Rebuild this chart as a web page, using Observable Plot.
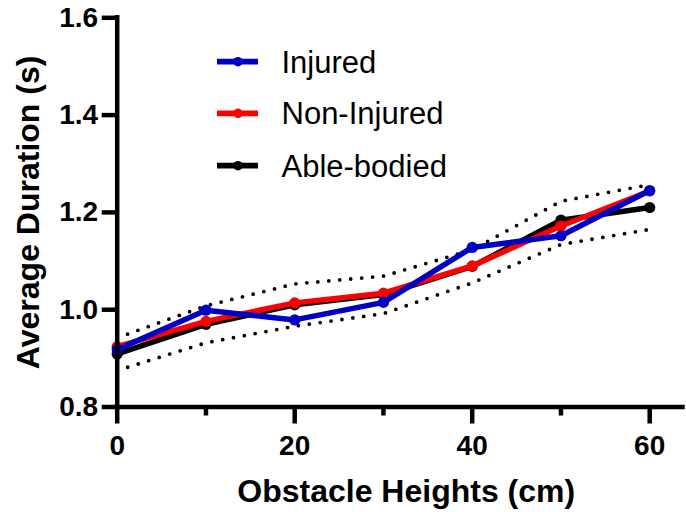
<!DOCTYPE html>
<html>
<head>
<meta charset="utf-8">
<script src="https://cdn.jsdelivr.net/npm/d3@7"></script>
<script src="https://cdn.jsdelivr.net/npm/@observablehq/plot@0.6"></script>
<style>
  html, body { margin: 0; padding: 0; background: #fff; }
  #chart svg { display: block; }
</style>
</head>
<body>
<div id="chart"></div>
<script>
// Obstacle heights (cm)
const heights = [0, 10, 20, 30, 40, 50, 60];

// Average step duration (s) per group
const injured    = [0.918, 0.999, 0.979, 1.015, 1.128, 1.152, 1.245];
const nonInjured = [0.924, 0.976, 1.014, 1.034, 1.090, 1.172, 1.244];
const ableBodied = [0.909, 0.970, 1.010, 1.031, 1.089, 1.184, 1.210];

// Able-bodied spread (dotted band)
const ableUpper = [0.942, 1.008, 1.053, 1.069, 1.123, 1.223, 1.257];
const ableLower = [0.875, 0.932, 0.966, 0.992, 1.055, 1.134, 1.165];

const seriesNames  = ["Injured", "Non-Injured", "Able-bodied"];
const seriesColors = ["#0000c4", "#ff0000", "#000000"];

const xMajorTicks = [0, 20, 40, 60];
const xMinorTicks = [10, 30, 50];
const yTicks = [0.8, 1.0, 1.2, 1.4, 1.6];

const toRows = (vals, name) => heights.map((h, i) => ({height: h, value: vals[i], series: name}));
const groups = {
  "Injured": toRows(injured, "Injured"),
  "Non-Injured": toRows(nonInjured, "Non-Injured"),
  "Able-bodied": toRows(ableBodied, "Able-bodied")
};
const upperRows = toRows(ableUpper, "upper");
const lowerRows = toRows(ableLower, "lower");

const font = "Arial, 'Liberation Sans', Helvetica, sans-serif";
const lineWidth = 5.5;
const dotR = 5.6;

// Draw black first, then red, then blue on top
const drawOrder = ["Able-bodied", "Non-Injured", "Injured"];
const seriesMarks = drawOrder.flatMap(name => {
  const color = seriesColors[seriesNames.indexOf(name)];
  return [
    Plot.line(groups[name], {x: "height", y: "value", stroke: color, strokeWidth: lineWidth, strokeLinejoin: "round"}),
    Plot.dot(groups[name], {x: "height", y: "value", fill: color, r: dotR})
  ];
});

const chart = Plot.plot({
  width: 686,
  height: 512,
  marginLeft: 116.7,
  marginRight: 1.3,
  marginTop: 17.3,
  marginBottom: 105.5,
  style: {fontFamily: font, background: "#fff", color: "#000", overflow: "visible"},
  x: {domain: [0, 64]},
  y: {domain: [0.8, 1.6]},
  marks: [
    // dotted spread lines
    Plot.line(upperRows, {x: "height", y: "value", stroke: "#000", strokeWidth: 3.8, strokeDasharray: "0 11", strokeLinecap: "round"}),
    Plot.line(lowerRows, {x: "height", y: "value", stroke: "#000", strokeWidth: 3.8, strokeDasharray: "0 11", strokeLinecap: "round"}),
    ...seriesMarks,
    // axis lines
    Plot.ruleY([0.8], {stroke: "#000", strokeWidth: 4.5}),
    Plot.ruleX([0], {y1: 0.8, y2: 1.6, stroke: "#000", strokeWidth: 4.5, strokeLinecap: "square"}),
    // x axis: major and minor ticks
    Plot.axisX({ticks: xMajorTicks, tickSize: 17, tickPadding: 11, strokeWidth: 4.5, fontSize: 28, fontWeight: "bold", tickFormat: d => String(d), label: null}),
    Plot.axisX({ticks: xMinorTicks, tickSize: 9, strokeWidth: 4.5, text: null, label: null}),
    // y axis
    Plot.axisY({ticks: yTicks, tickSize: 15, tickPadding: 4, strokeWidth: 4.5, fontSize: 28, fontWeight: "bold", tickFormat: d3.format(".1f"), label: null}),
    // axis titles
    Plot.text(["Obstacle Heights (cm)"], {frameAnchor: "bottom", textAnchor: "middle", dx: 5, dy: 85, fontSize: 32, fontWeight: "bold", lineAnchor: "middle"}),
    Plot.text(["Average Duration (s)"], {frameAnchor: "left", textAnchor: "middle", rotate: -90, dx: -88.7, fontSize: 32, fontWeight: "bold", lineAnchor: "middle"})
  ]
});

document.getElementById("chart").appendChild(chart);

// Legend inside the plot area
const svg = d3.select(chart);
const legend = svg.append("g").attr("font-family", font).attr("text-anchor", "start");
const legendRowsY = [61.7, 113.3, 165.7];
seriesNames.forEach((name, i) => {
  const g = legend.append("g").attr("transform", `translate(0,${legendRowsY[i]})`);
  g.append("line").attr("x1", 217).attr("x2", 258).attr("y1", 0).attr("y2", 0)
    .attr("stroke", seriesColors[i]).attr("stroke-width", 5.8);
  g.append("circle").attr("cx", 238).attr("cy", 0).attr("r", 4.8).attr("fill", seriesColors[i]);
  g.append("text").attr("x", 281.5).attr("y", 11).attr("font-size", 31).attr("font-weight", "normal")
    .attr("text-anchor", "start").attr("fill", "#000").text(name);
});
</script>
</body>
</html>
